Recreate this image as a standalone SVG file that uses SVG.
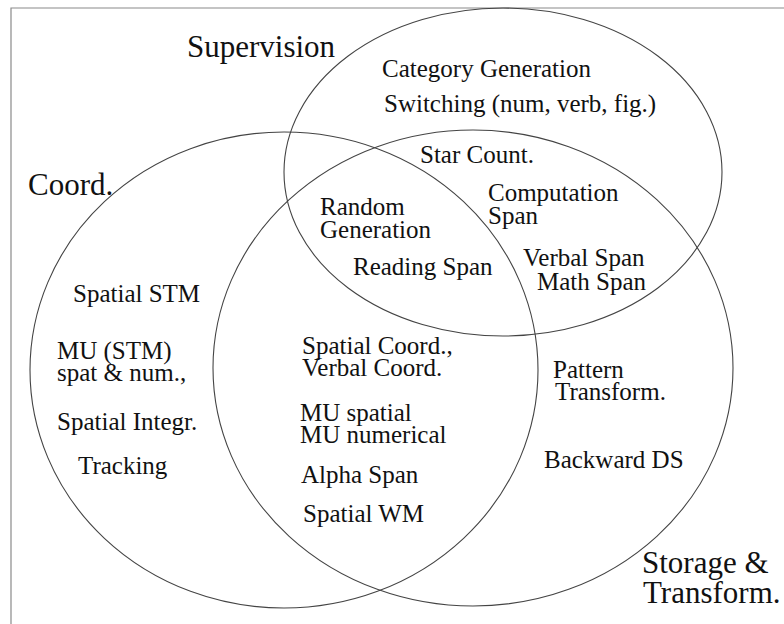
<svg xmlns="http://www.w3.org/2000/svg" width="784" height="624" viewBox="0 0 784 624">
<style>
  .bg { fill: #ffffff; }
  .frame { fill: none; stroke: #8a8a8a; stroke-width: 1.2; }
  .set { fill: none; stroke: #444; stroke-width: 1.1; }
  .t { font-family: 'Liberation Serif', 'DejaVu Serif', serif; fill: #111; }
  .title { font-size: 31px; }
  .item { font-size: 25px; }
</style>
<rect class="bg" x="0" y="0" width="784" height="624"/>
<path class="frame" d="M11,624 L11,8 L784,8"/>
<g id="connectors"></g>
<g class="t" font-family="Liberation Serif, DejaVu Serif, serif">
<g id="supervision">
  <ellipse class="set" cx="503" cy="172" rx="219" ry="164"/>
  <text class="title" x="187" y="57">Supervision</text>
</g>
<g id="coord">
  <ellipse class="set" cx="284" cy="370" rx="254" ry="238"/>
  <text class="title" x="28" y="195">Coord.</text>
</g>
<g id="storage">
  <ellipse class="set" cx="473" cy="368" rx="260" ry="238"/>
  <text class="title" x="642" y="573">Storage &amp;</text>
  <text class="title" x="643" y="603">Transform.</text>
</g>
<g id="items-supervision">
  <text class="item" x="382" y="77">Category Generation</text>
  <text class="item" x="384" y="112">Switching (num, verb, fig.)</text>
</g>
<g id="items-sup-storage">
  <text class="item" x="420" y="163">Star Count.</text>
  <text class="item" x="488" y="201">Computation</text>
  <text class="item" x="488" y="224">Span</text>
  <text class="item" x="523" y="266">Verbal Span</text>
  <text class="item" x="537" y="290">Math Span</text>
</g>
<g id="items-all">
  <text class="item" x="320" y="215">Random</text>
  <text class="item" x="320" y="238">Generation</text>
  <text class="item" x="353" y="275">Reading Span</text>
</g>
<g id="items-coord">
  <text class="item" x="73" y="302">Spatial STM</text>
  <text class="item" x="57" y="359">MU (STM)</text>
  <text class="item" x="57" y="381">spat &amp; num.,</text>
  <text class="item" x="57" y="430">Spatial Integr.</text>
  <text class="item" x="78" y="474">Tracking</text>
</g>
<g id="items-coord-storage">
  <text class="item" x="302" y="354">Spatial Coord.,</text>
  <text class="item" x="302" y="376">Verbal Coord.</text>
  <text class="item" x="300" y="421">MU spatial</text>
  <text class="item" x="300" y="443">MU numerical</text>
  <text class="item" x="301" y="483">Alpha Span</text>
  <text class="item" x="303" y="522">Spatial WM</text>
</g>
<g id="items-storage">
  <text class="item" x="553" y="378">Pattern</text>
  <text class="item" x="555" y="400">Transform.</text>
  <text class="item" x="544" y="468">Backward DS</text>
</g>
</g>
</svg>
